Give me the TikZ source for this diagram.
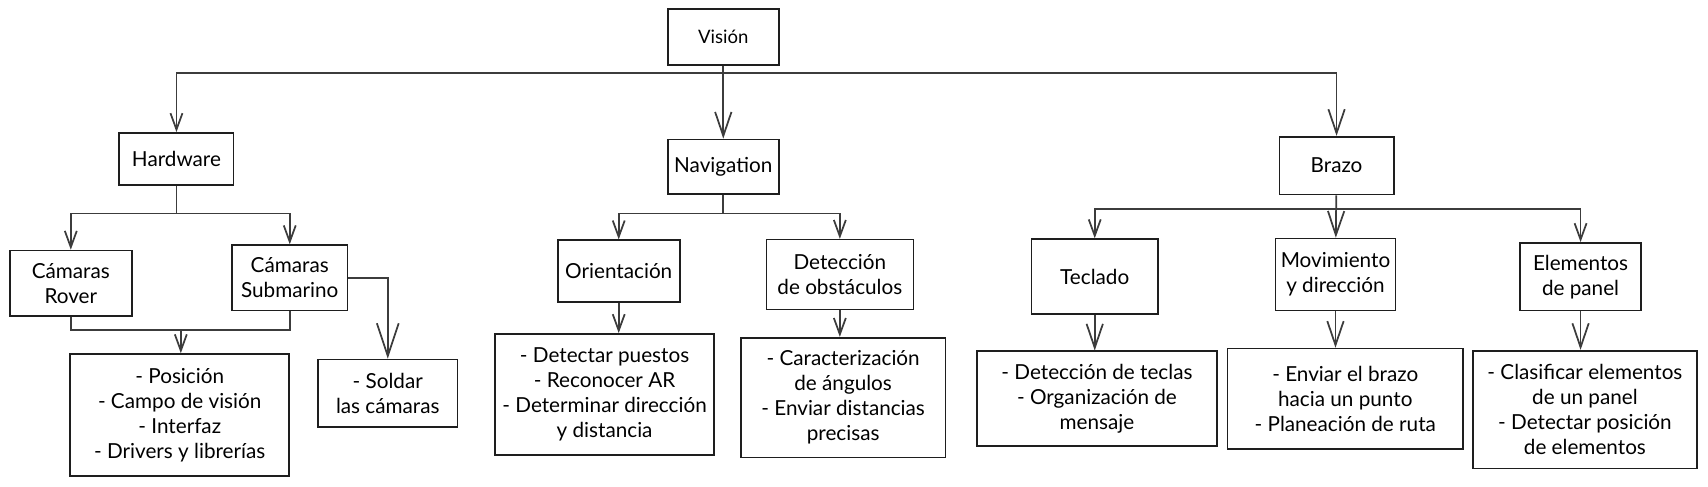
\documentclass[tikz,border=0pt]{standalone}
\usepackage{fontspec}
\setmainfont{Lato}
\usetikzlibrary{arrows.meta}

\tikzset{every picture/.style={line width=0.75pt}}
\tikzset{
  box/.style={draw={rgb, 255:red, 30; green, 30; blue, 30}, align=center, inner sep=0pt, font=\fontsize{9.5}{11.5}\selectfont},
  link/.style={draw={rgb, 255:red, 60; green, 60; blue, 60}, line width=0.8pt},
  arr/.style={link, -{Straight Barb[length=7.5pt,width=5.5pt]}},
  midarr/.style={link, -{Straight Barb[length=11pt,width=7.5pt]}},
  bigarr/.style={link, -{Straight Barb[length=15pt,width=10pt]}}
}

\begin{document}
\begin{tikzpicture}[x=0.5pt,y=0.5pt,yscale=-1,xscale=1]
\path[use as bounding box] (0,0) rectangle (1568,447);

%Level 0
\node[box, minimum width=51pt, minimum height=25.5pt, font=\fontsize{8.5}{10}\selectfont] (vis) at (664,34) {Visión};

%Level 1
\node[box, minimum width=52.5pt, minimum height=24pt] (hw) at (162,146) {Hardware};
\node[box, minimum width=51pt, minimum height=25pt] (nav) at (664,153) {Navigation};
\node[box, minimum width=52.5pt, minimum height=26.5pt] (brz) at (1227,152) {Brazo};

%Level 2
\node[box, minimum width=56pt, minimum height=30pt] (rov) at (65,260) {Cámaras\\Rover};
\node[box, minimum width=53pt, minimum height=30pt] (sub) at (266,255) {Cámaras\\Submarino};
\node[box, minimum width=56pt, minimum height=28.5pt] (ori) at (568,249) {Orientación};
\node[box, minimum width=67.5pt, minimum height=32pt] (obs) at (771,252) {Detección\\de obstáculos};
\node[box, minimum width=58pt, minimum height=34.5pt] (tec) at (1005,254) {Teclado};
\node[box, minimum width=55pt, minimum height=33pt] (mov) at (1226,252) {Movimiento\\y dirección};
\node[box, minimum width=55.5pt, minimum height=31pt] (ele) at (1451,254) {Elementos\\de panel};

%Level 3
\node[box, minimum width=100.5pt, minimum height=56pt] (pos) at (165,381) {- Posición\\- Campo de visión\\- Interfaz\\- Drivers y librerías};
\node[box, minimum width=64pt, minimum height=31pt] (sol) at (356,361) {- Soldar\\las cámaras};
\node[box, minimum width=100.5pt, minimum height=55.5pt] (dpu) at (555,362) {- Detectar puestos\\- Reconocer AR\\- Determinar dirección\\y distancia};
\node[box, minimum width=94pt, minimum height=55pt] (car) at (774,365) {- Caracterización\\de ángulos\\- Enviar distancias\\precisas};
\node[box, minimum width=110pt, minimum height=43.5pt] (dte) at (1007,366) {- Detección de teclas\\- Organización de\\mensaje};
\node[box, minimum width=108pt, minimum height=46pt] (env) at (1235,366) {- Enviar el brazo\\hacia un punto\\- Planeación de ruta};
\node[box, minimum width=103pt, minimum height=54pt] (cla) at (1455,376) {- Clasificar elementos\\de un panel\\- Detectar posición\\de elementos};

%Bus points
\coordinate (vbus) at (664,67);
\coordinate (hbus) at (162,196);
\coordinate (mbus) at (166,303);
\coordinate (nbus) at (664,196);
\coordinate (bbus) at (1227,192);

%Vision tree
\draw[midarr] (vis) -- (nav);
\draw[arr] (vbus) -| (hw);
\draw[midarr] (vbus) -| (brz);

%Hardware tree
\draw[link] (hw) -- (hbus);
\draw[arr] (hbus) -| (rov);
\draw[arr] (hbus) -| (sub);
\draw[link] (rov) |- (mbus);
\draw[link] (sub) |- (mbus);
\draw[arr] (mbus) -- (mbus |- pos.north);
\draw[bigarr] (sub.east) -| (sol);

%Navigation tree
\draw[link] (nav) -- (nbus);
\draw[arr] (nbus) -| (ori);
\draw[arr] (nbus) -| (obs);
\draw[arr] (ori.south) -- (ori.south |- dpu.north);
\draw[arr] (obs.south) -- (obs.south |- car.north);

%Brazo tree
\draw[midarr] (brz) -- (mov);
\draw[arr] (bbus) -| (tec);
\draw[arr] (bbus) -| (ele);
\draw[midarr] (tec.south) -- (tec.south |- dte.north);
\draw[midarr] (mov.south) -- (mov.south |- env.north);
\draw[midarr] (ele.south) -- (ele.south |- cla.north);

\end{tikzpicture}
\end{document}
